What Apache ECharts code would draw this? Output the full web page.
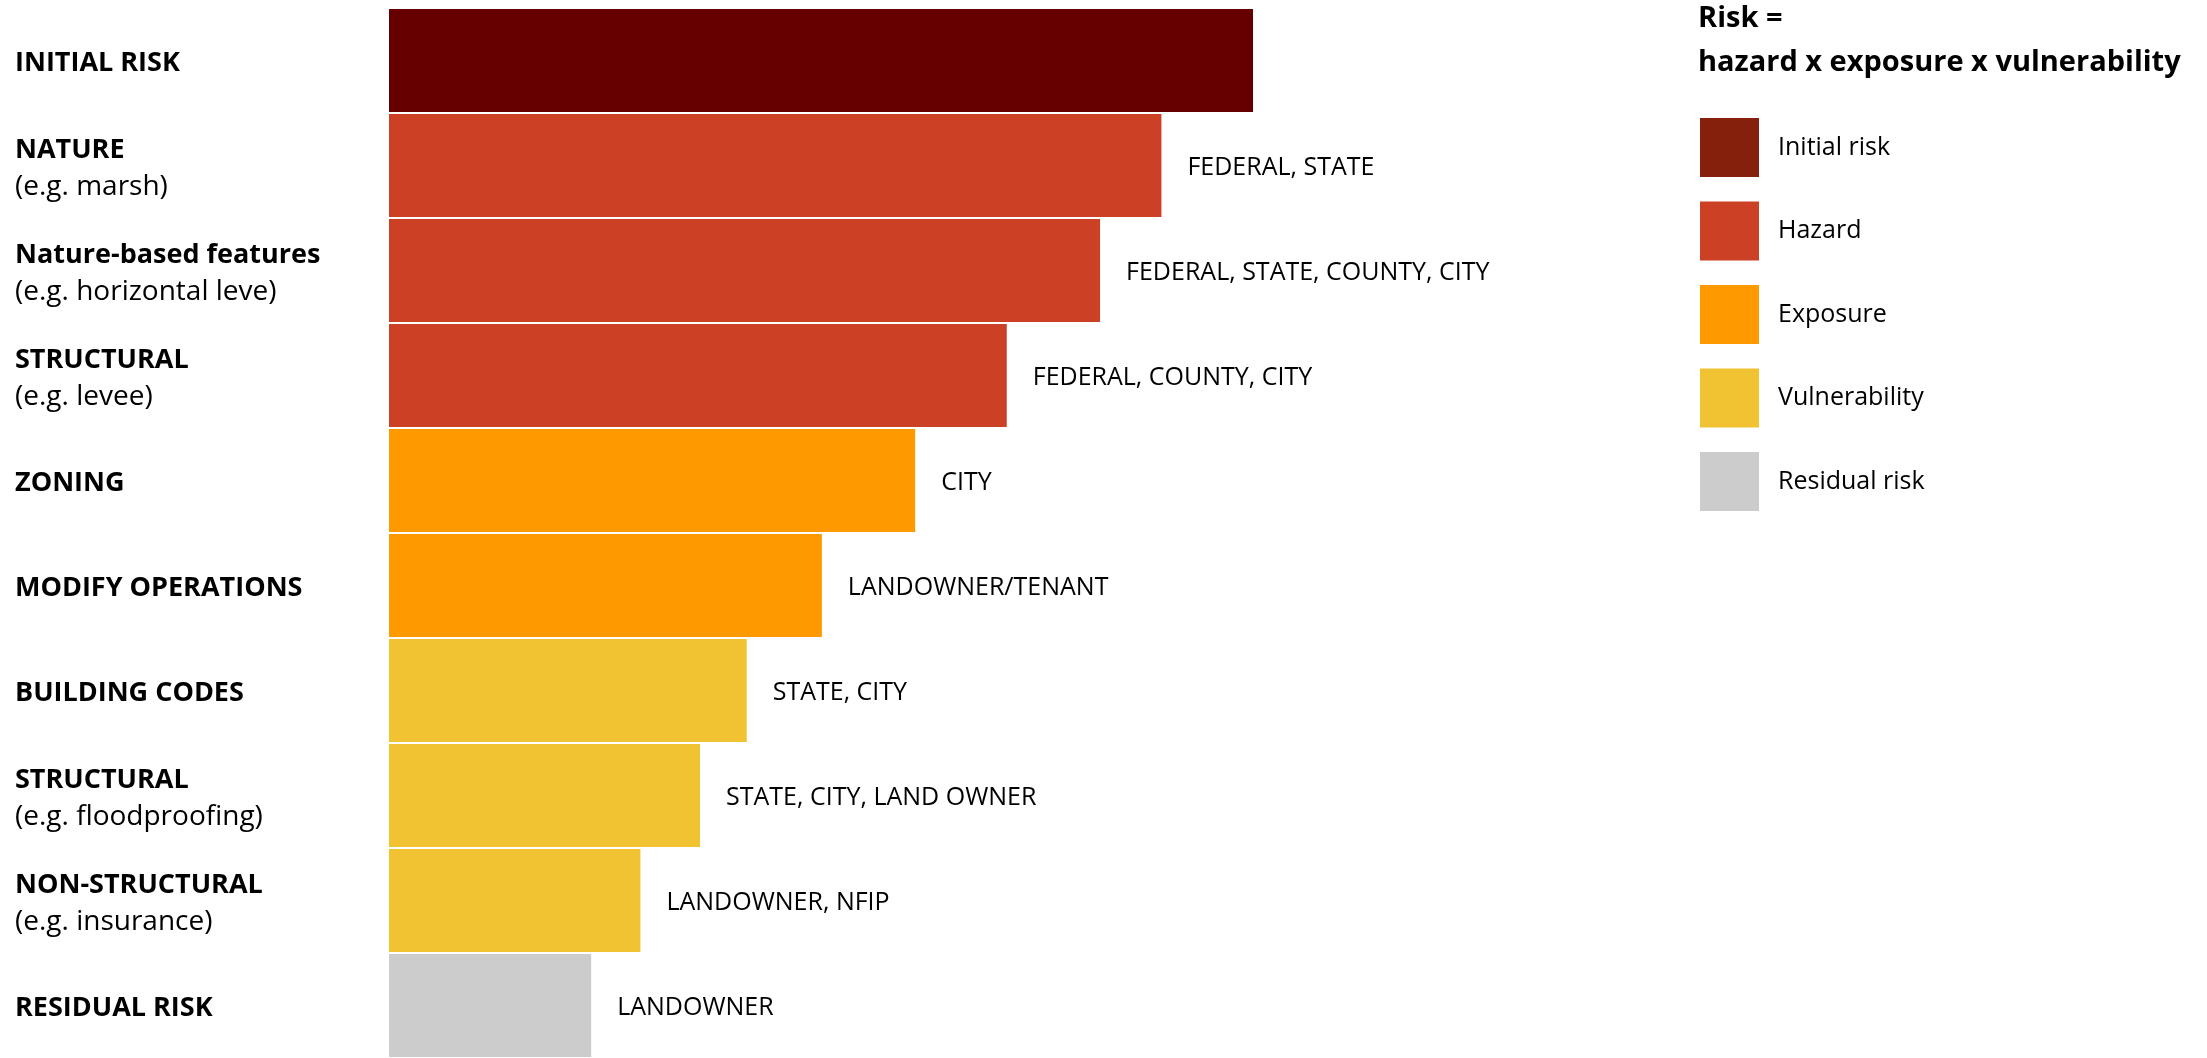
<!DOCTYPE html>
<html>
<head>
<meta charset="utf-8">
<script src="https://cdn.jsdelivr.net/npm/echarts@6/dist/echarts.min.js"></script>
<style>
html,body{margin:0;padding:0;background:#fff;}
#chart{width:2207px;height:1058px;}
</style>
</head>
<body>
<div id="chart"></div>
<script>
const categories = ['INITIAL RISK', 'NATURE', 'Nature-based features', 'STRUCTURAL', 'ZONING', 'MODIFY OPERATIONS', 'BUILDING CODES', 'STRUCTURAL', 'NON-STRUCTURAL', 'RESIDUAL RISK'];
const examples = ['', '(e.g. marsh)', '(e.g. horizontal leve)', '(e.g. levee)', '', '', '', '(e.g. floodproofing)', '(e.g. insurance)', ''];
const riskValues = [100, 89.4, 82.3, 71.5, 60.9, 50.1, 41.4, 36.0, 29.1, 23.4];
const agencies = ['', 'FEDERAL, STATE', 'FEDERAL, STATE, COUNTY, CITY', 'FEDERAL, COUNTY, CITY', 'CITY', 'LANDOWNER/TENANT', 'STATE, CITY', 'STATE, CITY, LAND OWNER', 'LANDOWNER, NFIP', 'LANDOWNER'];
const barGroups = ['Initial risk', 'Hazard', 'Hazard', 'Hazard', 'Exposure', 'Exposure', 'Vulnerability', 'Vulnerability', 'Vulnerability', 'Residual risk'];
const groupNames = ['Initial risk', 'Hazard', 'Exposure', 'Vulnerability', 'Residual risk'];
const barColors = ['#660000', '#CC4125', '#FF9900', '#F1C232', '#CCCCCC'];
const legendColors = ['#85200C', '#CC4125', '#FF9900', '#F1C232', '#CCCCCC'];
const titleText = 'Risk =\nhazard x exposure x vulnerability';

const FONT = '"Open Sans", "Noto Sans", sans-serif';

const series = groupNames.map((g, gi) => ({
  name: g,
  type: 'bar',
  stack: 'risk',
  barCategoryGap: '2%',
  itemStyle: { color: barColors[gi] },
  emphasis: { disabled: true },
  label: {
    show: true,
    position: 'right',
    distance: 26,
    offset: [0, 2],
    color: '#000',
    fontFamily: FONT,
    fontSize: 25,
    formatter: p => agencies[p.dataIndex]
  },
  data: riskValues.map((v, i) => barGroups[i] === g ? v : '-')
}));

const chart = echarts.init(document.getElementById('chart'));
chart.setOption({
  animation: false,
  backgroundColor: '#fff',
  title: {
    text: titleText,
    left: 1698,
    top: -3,
    padding: 0,
    textStyle: { fontFamily: FONT, fontSize: 29, fontWeight: 'bold', color: '#000', lineHeight: 44 }
  },
  legend: {
    orient: 'vertical',
    left: 1700,
    top: 118,
    padding: 0,
    itemWidth: 59,
    itemHeight: 59,
    itemGap: 24.5,
    icon: 'rect',
    selectedMode: false,
    textStyle: { fontFamily: FONT, fontSize: 25, color: '#000', padding: [6, 0, 0, 14] },
    data: groupNames.map((g, gi) => ({ name: g, itemStyle: { color: legendColors[gi] } }))
  },
  grid: { left: 389, top: 8, width: 864, height: 1056, containLabel: false },
  xAxis: {
    type: 'value', min: 0, max: 100, show: false, splitLine: { show: false }
  },
  yAxis: {
    type: 'category',
    inverse: true,
    data: categories,
    axisLine: { show: false },
    axisTick: { show: false },
    axisLabel: {
      align: 'left',
      margin: 374,
      padding: [6, 0, 0, 0],
      formatter: (val, idx) => examples[idx] ? `{b|${val}}\n{r|${examples[idx]}}` : `{b|${val}}`,
      rich: {
        b: { fontFamily: FONT, fontWeight: 'bold', fontSize: 27, lineHeight: 37, color: '#000' },
        r: { fontFamily: FONT, fontSize: 28, lineHeight: 37, color: '#000' }
      }
    }
  },
  series: series
});
</script>
</body>
</html>
